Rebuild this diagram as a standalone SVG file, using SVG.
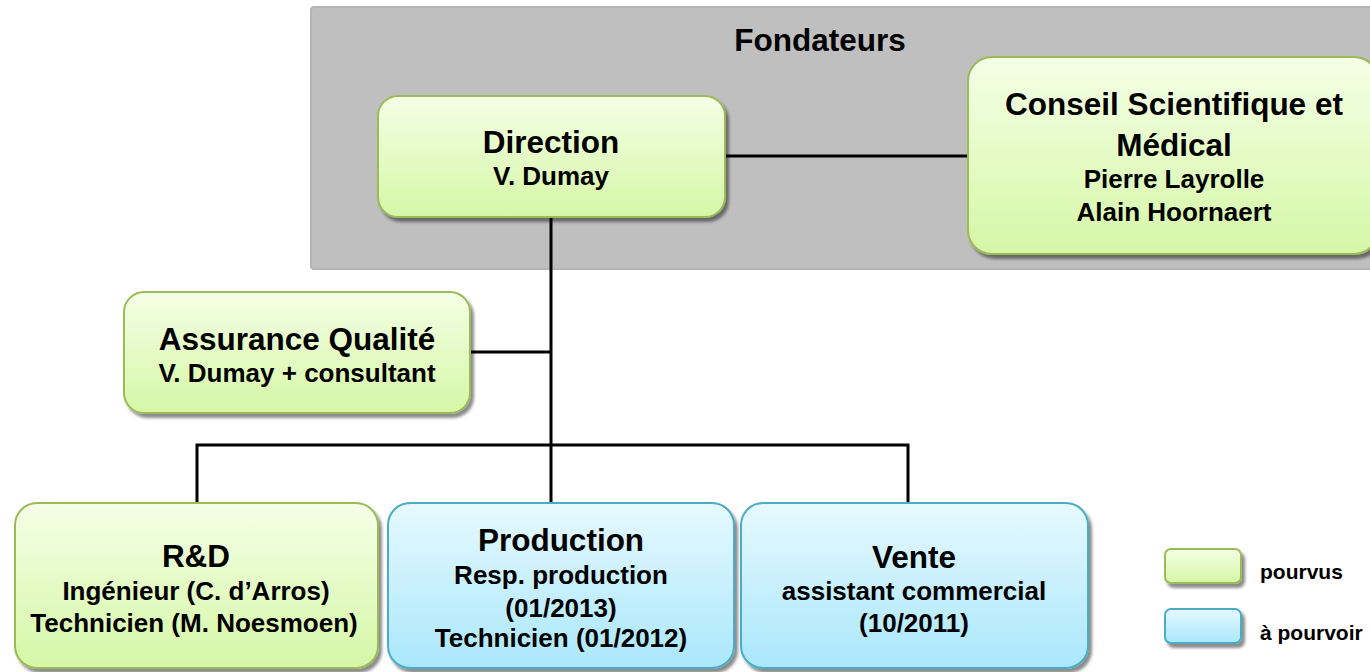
<svg xmlns="http://www.w3.org/2000/svg" width="1370" height="672" viewBox="0 0 1370 672">
<defs>
<linearGradient id="gGreen" x1="0" y1="0" x2="0" y2="1">
<stop offset="0" stop-color="#f4ffe6"/>
<stop offset="1" stop-color="#d5f7a6"/>
</linearGradient>
<linearGradient id="gBlue" x1="0" y1="0" x2="0" y2="1">
<stop offset="0" stop-color="#e6f9ff"/>
<stop offset="1" stop-color="#aae7fb"/>
</linearGradient>
<filter id="sh" x="-10%" y="-10%" width="120%" height="130%">
<feDropShadow dx="3" dy="4" stdDeviation="1.5" flood-color="#000" flood-opacity="0.45"/>
</filter>
<style>
.g{fill:url(#gGreen);stroke:#9bbb59;stroke-width:2;filter:url(#sh)}
.b{fill:url(#gBlue);stroke:#4bacc6;stroke-width:2;filter:url(#sh)}
.t1{font-family:"Liberation Sans",Arial,sans-serif;font-weight:bold;font-size:31.5px;fill:#000;text-anchor:middle}
.t2{font-family:"Liberation Sans",Arial,sans-serif;font-weight:bold;font-size:26px;fill:#000;text-anchor:middle}
.lg{font-family:"Liberation Sans",Arial,sans-serif;font-weight:bold;font-size:21px;fill:#000}
.c{stroke:#000;stroke-width:3;fill:none}
</style>
</defs>
<rect width="1370" height="672" fill="#fff"/>
<g id="fondateurs">
<rect x="311" y="7" width="1070" height="262" rx="3" fill="#bfbfbf" stroke="#b5b5b5" stroke-width="2"/>
<text class="t1" x="820" y="51" font-size="30">Fondateurs</text>
</g>
<g id="connectors">
<line class="c" x1="725" y1="156" x2="968" y2="156"/>
<line class="c" x1="551" y1="217" x2="551" y2="503"/>
<line class="c" x1="470" y1="352" x2="551" y2="352"/>
<polyline class="c" points="197,503 197,445 908,445 908,503"/>
</g>
<g id="direction">
<rect class="g" x="378" y="96" width="347" height="121" rx="20"/>
<text class="t1" x="551" y="153">Direction</text>
<text class="t2" x="551" y="185">V. Dumay</text>
</g>
<g id="conseil">
<rect class="g" x="968" y="57" width="410" height="197" rx="24"/>
<text class="t1" x="1174" y="115">Conseil Scientifique et</text>
<text class="t1" x="1174" y="156">Médical</text>
<text class="t2" x="1174" y="188">Pierre Layrolle</text>
<text class="t2" x="1174" y="221">Alain Hoornaert</text>
</g>
<g id="assurance">
<rect class="g" x="124" y="292" width="346" height="121" rx="20"/>
<text class="t1" x="297" y="350">Assurance Qualité</text>
<text class="t2" x="297" y="382">V. Dumay + consultant</text>
</g>
<g id="rd">
<rect class="g" x="15" y="503" width="363" height="165" rx="22"/>
<text class="t1" x="196" y="567">R&amp;D</text>
<text class="t2" x="196" y="600">Ingénieur (C. d’Arros)</text>
<text class="t2" x="194" y="632">Technicien (M. Noesmoen)</text>
</g>
<g id="production">
<rect class="b" x="388" y="503" width="346" height="165" rx="22"/>
<text class="t1" x="561" y="551">Production</text>
<text class="t2" x="561" y="584">Resp. production</text>
<text class="t2" x="561" y="617">(01/2013)</text>
<text class="t2" x="561" y="647">Technicien (01/2012)</text>
</g>
<g id="vente">
<rect class="b" x="741" y="503" width="347" height="165" rx="22"/>
<text class="t1" x="914" y="568">Vente</text>
<text class="t2" x="914" y="600">assistant commercial</text>
<text class="t2" x="914" y="632">(10/2011)</text>
</g>
<g id="legend">
<rect class="g" x="1165" y="549" width="76" height="34" rx="6"/>
<text class="lg" x="1260" y="579">pourvus</text>
<rect class="b" x="1165" y="609" width="76" height="34" rx="6"/>
<text class="lg" x="1260" y="640">à pourvoir</text>
</g>
</svg>
